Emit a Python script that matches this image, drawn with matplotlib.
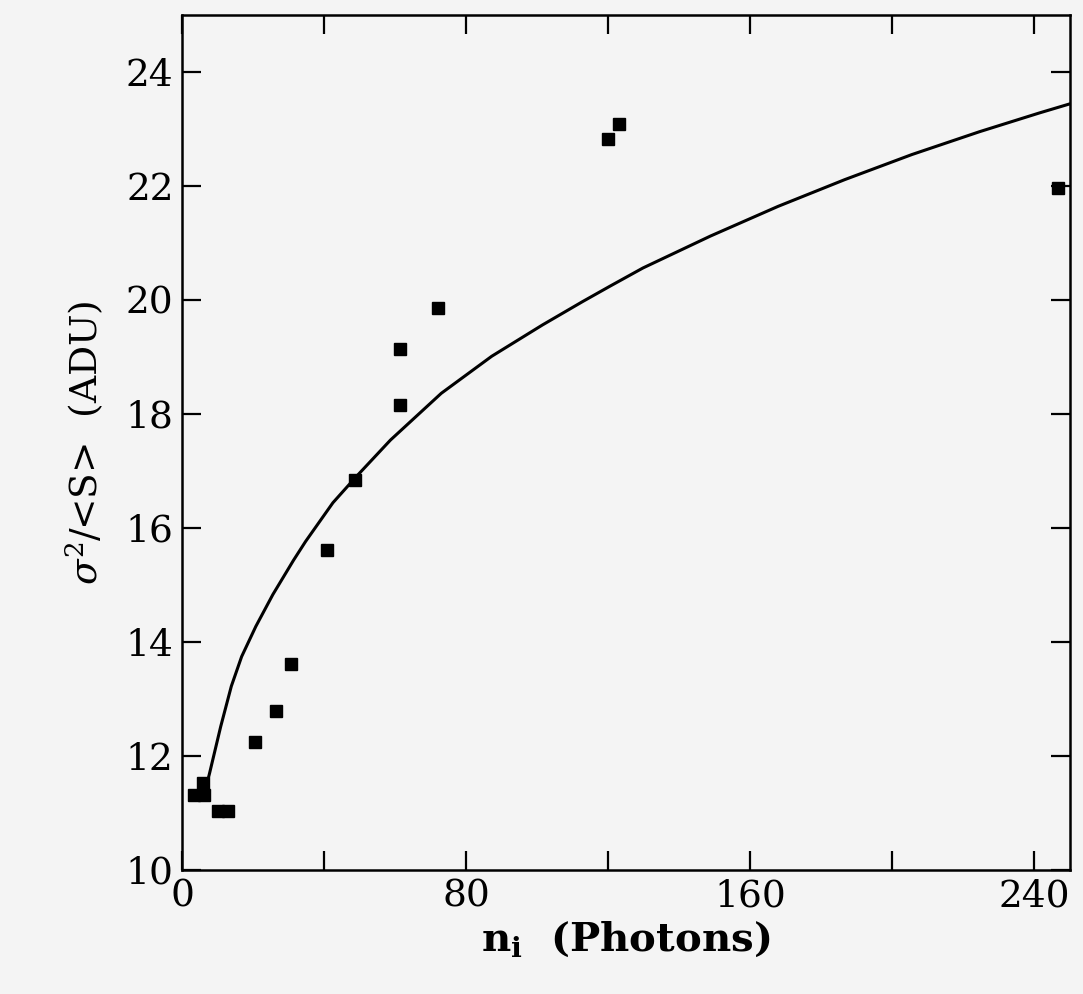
import matplotlib
matplotlib.use("Agg")
import matplotlib.pyplot as plt
from matplotlib.ticker import FixedLocator, NullFormatter

# measured points
n_photons = [3.4, 6.3, 6.0, 10.1, 12.9, 20.6, 26.4, 30.8, 40.9, 48.8,
             61.3, 61.3, 72.2, 120.0, 122.9, 246.5]
ratio = [11.32, 11.32, 11.53, 11.03, 11.03, 12.25, 12.79, 13.61, 15.61, 16.84,
         19.14, 18.16, 19.86, 22.82, 23.09, 21.96]

# fitted curve
fit_n = [6.6, 7.8, 10.9, 13.9, 16.8, 20.8, 25.6, 31.4, 34.8, 42.5, 49.1,
         58.7, 73.0, 87.2, 101.5, 112.8, 120.5, 129.8, 148.8, 167.8, 186.6,
         205.5, 224.5, 241.4, 250.0]
fit_ratio = [11.40, 11.70, 12.51, 13.22, 13.74, 14.27, 14.83, 15.43, 15.76, 16.44, 16.90,
             17.54, 18.36, 19.01, 19.56, 19.97, 20.24, 20.56, 21.12, 21.64, 22.11,
             22.55, 22.95, 23.28, 23.44]

x_major = [0, 80, 160, 240]
x_minor = [40, 120, 200]
y_ticks = [10, 12, 14, 16, 18, 20, 22, 24]

bg = "#f4f4f4"
plt.rcParams["font.family"] = "DejaVu Serif"
plt.rcParams["mathtext.fontset"] = "dejavuserif"

fig = plt.figure(figsize=(10.83, 9.94), dpi=100, facecolor=bg)
ax = fig.add_axes([0.168, 0.125, 0.82, 0.86], facecolor=bg)

ax.plot(fit_n, fit_ratio, color="black", lw=2.2, solid_capstyle="round",
        solid_joinstyle="round")
ax.plot(n_photons, ratio, ls="none", marker="s", ms=9, color="black")

ax.set_xlim(0, 250)
ax.set_ylim(10, 25)
ax.xaxis.set_major_locator(FixedLocator(x_major))
ax.xaxis.set_minor_locator(FixedLocator(x_minor))
ax.xaxis.set_minor_formatter(NullFormatter())
ax.set_yticks(y_ticks)

ax.tick_params(which="both", direction="in", top=True, right=True,
               length=14, width=1.6, labelsize=27, pad=6)
for s in ax.spines.values():
    s.set_linewidth(1.8)

ax.set_xlabel(r"n$_{\mathbf{i}}$  (Photons)", fontsize=29, fontweight="bold", labelpad=4)
ax.set_ylabel(r"$\sigma^2$/<S>  (ADU)", fontsize=27, labelpad=14)

fig.savefig("out.png", dpi=100, facecolor=bg)
